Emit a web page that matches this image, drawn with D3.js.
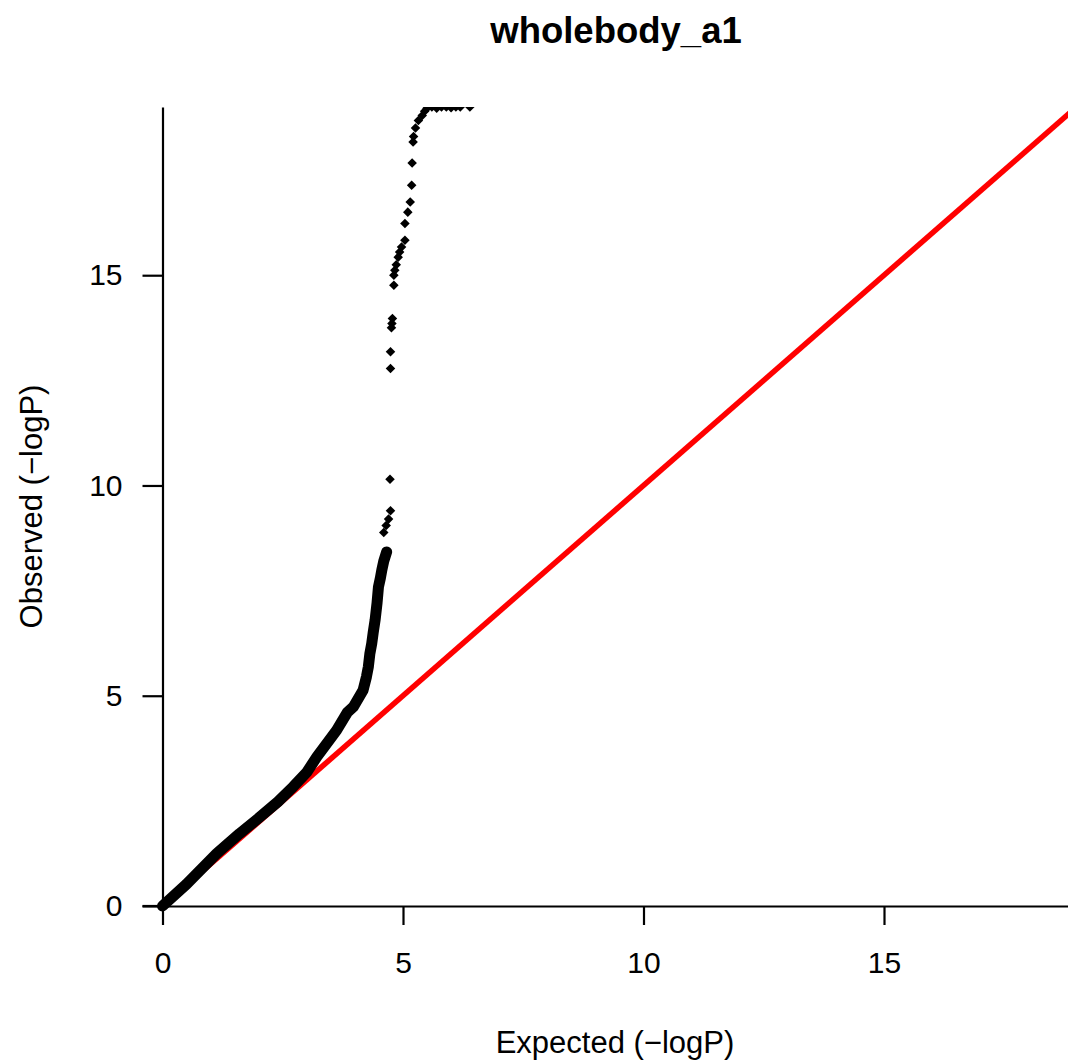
<!DOCTYPE html>
<html>
<head>
<meta charset="utf-8">
<script src="https://cdn.jsdelivr.net/npm/d3@7"></script>
<style>
  body { margin: 0; background: #fff; }
  svg { display: block; font-family: "Liberation Sans", Arial, Helvetica, sans-serif; }
</style>
</head>
<body>
<script>
var Chart = {
  width : 1068,
  height : 1063
};

// dense part of the QQ curve (expected, observed)
var bandExpected = [0, 0.5, 1.13, 1.6, 2.03, 2.4, 2.72, 3.0, 3.21, 3.45, 3.62, 3.84, 3.97, 4.17, 4.24, 4.28, 4.31, 4.35, 4.38, 4.42, 4.46, 4.49, 4.53, 4.56, 4.6, 4.66];
var bandObserved = [0, 0.52, 1.25, 1.72, 2.12, 2.48, 2.84, 3.18, 3.55, 3.92, 4.18, 4.6, 4.74, 5.13, 5.45, 5.69, 5.99, 6.24, 6.5, 6.8, 7.2, 7.59, 7.8, 7.99, 8.2, 8.42];

// sparse tail points
var tailExpected = [4.6, 4.65, 4.7, 4.74, 4.73, 4.74, 4.74, 4.76, 4.77, 4.78, 4.81, 4.81, 4.83, 4.86, 4.9, 4.93, 4.97, 5.04, 5.04, 5.1, 5.15, 5.18, 5.19, 5.21, 5.22, 5.26, 5.32, 5.4, 5.45, 5.5, 5.6, 5.7, 5.8, 5.9, 6.0, 6.1, 6.19, 6.39];
var tailObserved = [8.88, 9.05, 9.2, 9.4, 10.15, 12.78, 13.18, 13.75, 13.85, 13.97, 14.76, 15.0, 15.12, 15.25, 15.43, 15.55, 15.67, 15.83, 16.23, 16.5, 16.74, 17.14, 17.67, 18.17, 18.3, 18.5, 18.68, 18.8, 18.9, 18.97, 19.0, 18.97, 19.0, 19.0, 18.98, 19.0, 19.0, 19.0];

// reference line y = x
var refLine = [0, 20];

var xTicks = [0, 5, 10, 15];
var yTicks = [0, 5, 10, 15];

var title = "wholebody_a1";
var xLabel = "Expected (\u2212logP)";
var yLabel = "Observed (\u2212logP)";

var svg = d3.select("body").append("svg")
  .attr("width", Chart.width)
  .attr("height", Chart.height);

var x = d3.scaleLinear().domain([0, 19]).range([162.5, 1076.4]);
var y = d3.scaleLinear().domain([0, 19]).range([906, 107]);

svg.append("clipPath").attr("id", "plotclip")
  .append("rect")
  .attr("x", 140).attr("y", y(19))
  .attr("width", 1000).attr("height", 830);

var plot = svg.append("g").attr("clip-path", "url(#plotclip)");

// red reference line
plot.append("path")
  .datum(refLine)
  .attr("fill", "none")
  .attr("stroke", "#ff0000")
  .attr("stroke-width", 5.5)
  .attr("d", d3.line()
    .x(function(d){ return x(d); })
    .y(function(d){ return y(d); }));

var band = bandExpected.map(function(e, i){ return [e, bandObserved[i]]; });
var tail = tailExpected.map(function(e, i){ return [e, tailObserved[i]]; });

// dense band drawn as a thick line
plot.append("path")
  .datum(band)
  .attr("fill", "none")
  .attr("stroke", "#000")
  .attr("stroke-width", 11)
  .attr("stroke-linejoin", "round")
  .attr("stroke-linecap", "round")
  .attr("d", d3.line()
    .x(function(d){ return x(d[0]); })
    .y(function(d){ return y(d[1]); }));

var diamond = d3.symbol().type(d3.symbolDiamond2).size(58);

plot.selectAll("path.pt")
  .data(band.concat(tail))
  .enter().append("path")
  .attr("class", "pt")
  .attr("d", diamond)
  .attr("fill", "#000")
  .attr("transform", function(d){ return "translate(" + x(d[0]) + "," + y(d[1]) + ")"; });

// axes
var xAxis = svg.append("g").attr("transform", "translate(0," + y(0) + ")")
  .call(d3.axisBottom(x).tickValues(xTicks).tickSize(19).tickPadding(27).tickSizeOuter(0));
var yAxis = svg.append("g").attr("transform", "translate(" + x(0) + ",0)")
  .call(d3.axisLeft(y).tickValues(yTicks).tickSize(20).tickPadding(20).tickSizeOuter(0));

[xAxis, yAxis].forEach(function(a){
  a.select(".domain").attr("stroke", "#000").attr("stroke-width", 2.2);
  a.selectAll(".tick line").attr("stroke", "#000").attr("stroke-width", 2.2);
  a.selectAll(".tick text")
    .attr("fill", "#000")
    .style("font-size", "30px")
    .style("font-family", "Liberation Sans, Arial, sans-serif");
});

// horizontal axis line also runs left to the y tick
svg.append("line")
  .attr("x1", x(0) - 20).attr("x2", x(0))
  .attr("y1", y(0)).attr("y2", y(0))
  .attr("stroke", "#000").attr("stroke-width", 2.2);

svg.append("text")
  .attr("x", 616).attr("y", 43)
  .attr("text-anchor", "middle")
  .style("font-size", "36.5px")
  .style("font-weight", "bold")
  .text(title);

svg.append("text")
  .attr("x", 615).attr("y", 1053)
  .attr("text-anchor", "middle")
  .style("font-size", "31px")
  .text(xLabel);

svg.append("text")
  .attr("transform", "translate(42," + ((y(0) + y(19)) / 2) + ") rotate(-90)")
  .attr("text-anchor", "middle")
  .style("font-size", "31px")
  .text(yLabel);
</script>
</body>
</html>
